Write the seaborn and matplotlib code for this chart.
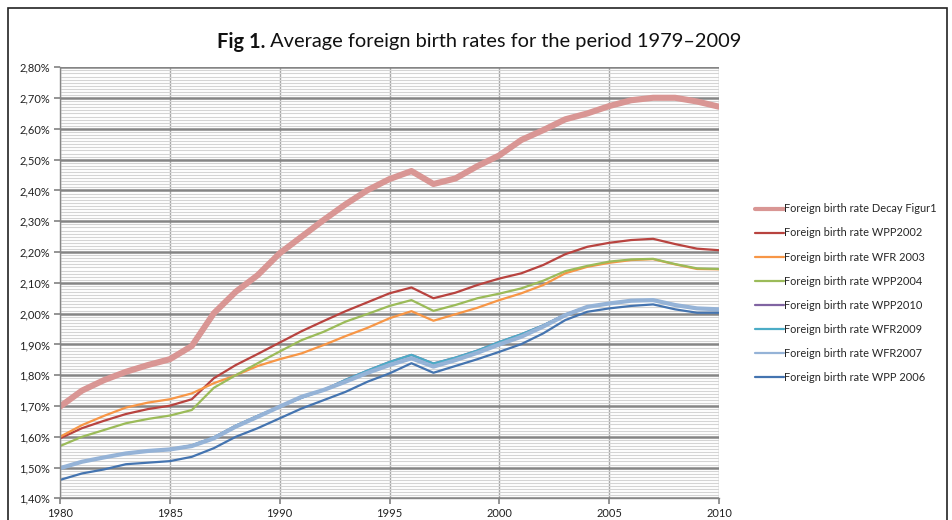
import matplotlib
matplotlib.use("Agg")
import matplotlib.pyplot as plt
import seaborn as sns
import pandas as pd
from matplotlib.lines import Line2D
from matplotlib.ticker import MultipleLocator, FuncFormatter
from matplotlib.patches import Rectangle

years = list(range(1980, 2011))

decay_figur1 = [1.698, 1.750, 1.784, 1.811, 1.833, 1.852, 1.895, 2.001, 2.071, 2.125,
                2.196, 2.250, 2.304, 2.355, 2.401, 2.437, 2.463, 2.421, 2.439, 2.479,
                2.514, 2.564, 2.596, 2.631, 2.650, 2.674, 2.693, 2.701, 2.701, 2.689, 2.672]
wpp2002 = [1.595, 1.628, 1.652, 1.674, 1.690, 1.701, 1.722, 1.790, 1.833, 1.869,
           1.906, 1.943, 1.976, 2.008, 2.037, 2.066, 2.085, 2.050, 2.068, 2.093,
           2.114, 2.131, 2.158, 2.193, 2.217, 2.230, 2.239, 2.243, 2.226, 2.211, 2.206]
wfr2003 = [1.600, 1.638, 1.668, 1.695, 1.711, 1.722, 1.741, 1.774, 1.800, 1.830,
           1.852, 1.871, 1.898, 1.927, 1.954, 1.985, 2.008, 1.977, 1.998, 2.019,
           2.044, 2.066, 2.093, 2.131, 2.152, 2.165, 2.174, 2.177, 2.160, 2.145, 2.144]
wpp2004 = [1.570, 1.600, 1.622, 1.644, 1.658, 1.669, 1.687, 1.759, 1.800, 1.839,
           1.877, 1.914, 1.941, 1.974, 1.999, 2.025, 2.044, 2.009, 2.028, 2.050,
           2.065, 2.082, 2.107, 2.138, 2.155, 2.169, 2.176, 2.178, 2.161, 2.147, 2.145]
wpp2010 = [1.498, 1.519, 1.533, 1.546, 1.554, 1.559, 1.572, 1.598, 1.636, 1.668,
           1.698, 1.727, 1.752, 1.785, 1.815, 1.843, 1.866, 1.838, 1.857, 1.880,
           1.908, 1.933, 1.962, 1.997, 2.022, 2.033, 2.042, 2.044, 2.028, 2.017, 2.014]
wfr2009 = [1.498, 1.519, 1.533, 1.546, 1.554, 1.559, 1.572, 1.598, 1.636, 1.668,
           1.698, 1.727, 1.752, 1.785, 1.815, 1.843, 1.866, 1.838, 1.857, 1.880,
           1.908, 1.933, 1.962, 1.997, 2.022, 2.033, 2.042, 2.044, 2.028, 2.017, 2.014]
wfr2007 = [1.498, 1.519, 1.533, 1.546, 1.554, 1.559, 1.570, 1.595, 1.633, 1.665,
           1.698, 1.730, 1.752, 1.779, 1.808, 1.833, 1.855, 1.828, 1.849, 1.873,
           1.900, 1.925, 1.958, 1.995, 2.022, 2.033, 2.042, 2.044, 2.028, 2.017, 2.014]
wpp2006 = [1.460, 1.481, 1.494, 1.511, 1.516, 1.521, 1.535, 1.563, 1.600, 1.628,
           1.660, 1.692, 1.719, 1.746, 1.779, 1.806, 1.839, 1.808, 1.830, 1.852,
           1.876, 1.901, 1.936, 1.979, 2.006, 2.017, 2.025, 2.030, 2.014, 2.003, 2.003]

series_names = ["Foreign birth rate Decay Figur1", "Foreign birth rate WPP2002",
                "Foreign birth rate WFR 2003", "Foreign birth rate WPP2004",
                "Foreign birth rate WPP2010", "Foreign birth rate WFR2009",
                "Foreign birth rate WFR2007", "Foreign birth rate WPP 2006"]
series_values = [decay_figur1, wpp2002, wfr2003, wpp2004, wpp2010, wfr2009, wfr2007, wpp2006]
colors = ["#D99694", "#B8433F", "#F79646", "#9BBB59", "#8064A2", "#4BACC6", "#95B3D7", "#4474B0"]
widths = [4.4, 1.6, 1.6, 1.6, 1.6, 1.6, 3.0, 1.6]
legend_widths = [3.0, 1.6, 1.6, 1.6, 1.6, 1.6, 1.6, 1.6]

sns.set_theme(style="white")
plt.rcParams['font.family'] = ['Lato', 'DejaVu Sans']

W, H = 953, 520
fig = plt.figure(figsize=(W / 100, H / 100), dpi=100)
fig.patch.set_facecolor("white")
ax = fig.add_axes([60 / W, (H - 498.4) / H, (719 - 60) / W, (498.4 - 67.3) / H])

for name, vals, c, lw in zip(series_names, series_values, colors, widths):
    df = pd.DataFrame({"year": years, "rate": vals})
    sns.lineplot(data=df, x="year", y="rate", ax=ax, color=c, linewidth=lw,
                 solid_capstyle="round", solid_joinstyle="round")

ax.set_xlim(1980, 2010)
ax.set_ylim(1.40, 2.80)
ax.xaxis.set_major_locator(MultipleLocator(5))
ax.yaxis.set_major_locator(MultipleLocator(0.10))
ax.yaxis.set_minor_locator(MultipleLocator(0.01))
ax.yaxis.set_major_formatter(FuncFormatter(lambda v, p: f"{v:.2f}%".replace(".", ",")))
ax.set_axisbelow(True)
ax.grid(which="minor", axis="y", color="#d4d4d4", linewidth=0.8)
ax.grid(which="major", axis="y", color="#858585", linewidth=1.8)
ax.grid(which="major", axis="x", color="#a8a8a8", linewidth=1.0)
ax.set_xlabel("")
ax.set_ylabel("")
for s in ["top", "right"]:
    ax.spines[s].set_visible(False)
for s in ["left", "bottom"]:
    ax.spines[s].set_color("#868686")
    ax.spines[s].set_linewidth(1.0)
ax.tick_params(axis="both", which="major", bottom=True, left=True, length=4,
               color="#868686", direction="out", labelsize=8, pad=3, labelcolor="#222222")
ax.tick_params(axis="y", which="minor", left=False)

# Title
r = fig.canvas.get_renderer()
t1 = fig.text(0, 0, "Fig 1.", fontweight="bold", fontsize=14.4, va="center", color="#111111")
t2 = fig.text(0, 0, " Average foreign birth rates for the period 1979\u20132009", fontsize=14.4,
              va="center", color="#111111")
w1 = t1.get_window_extent(r).width
w2 = t2.get_window_extent(r).width
x0 = 479 - (w1 + w2) / 2
t1.set_position((x0 / W, 1 - 42 / H))
t2.set_position(((x0 + w1) / W, 1 - 42 / H))

# Legend
handles = [Line2D([0], [0], color=c, lw=lw) for c, lw in zip(colors, legend_widths)]
fig.legend(handles, series_names, loc="upper left", bbox_to_anchor=(751 / W, 1 - 199 / H),
           bbox_transform=fig.transFigure, frameon=False, handlelength=2.6,
           handletextpad=0.0, labelspacing=1.19, fontsize=7.9, borderaxespad=0)

# Outer border
fig.add_artist(Rectangle((8 / W, -0.05), (947 - 8) / W, 1.05 - 8 / H, transform=fig.transFigure,
                         fill=False, edgecolor="#222222", linewidth=1.2))

fig.savefig("out.png", dpi=100, facecolor="white")
